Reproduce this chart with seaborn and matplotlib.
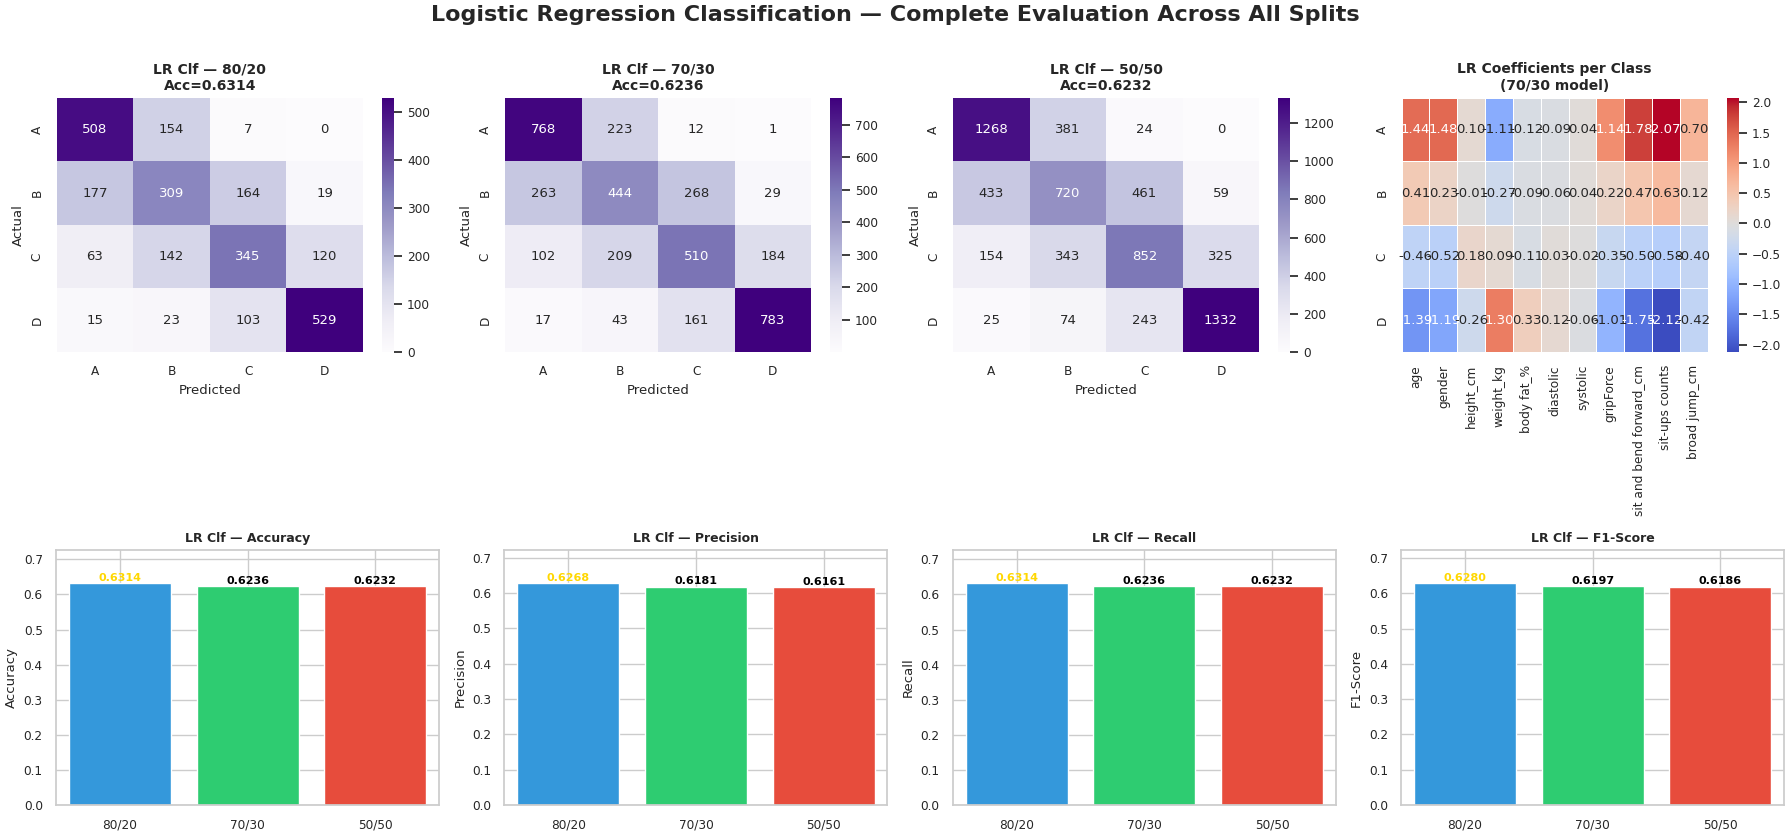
import numpy as np
import pandas as pd
import matplotlib
matplotlib.use('Agg')
import matplotlib.pyplot as plt
import seaborn as sns

# Sınıflar ve bölmeler
classes = ['A', 'B', 'C', 'D']
splits = ['80/20', '70/30', '50/50']

# Karışıklık matrisleri
cm_80_20 = [[508, 154, 7, 0],
            [177, 309, 164, 19],
            [63, 142, 345, 120],
            [15, 23, 103, 529]]
cm_70_30 = [[768, 223, 12, 1],
            [263, 444, 268, 29],
            [102, 209, 510, 184],
            [17, 43, 161, 783]]
cm_50_50 = [[1268, 381, 24, 0],
            [433, 720, 461, 59],
            [154, 343, 852, 325],
            [25, 74, 243, 1332]]
acc_titles = [0.6314, 0.6236, 0.6232]

# Katsayılar (70/30 modeli)
features = ['age', 'gender', 'height_cm', 'weight_kg', 'body fat_%', 'diastolic',
            'systolic', 'gripForce', 'sit and bend forward_cm', 'sit-ups counts',
            'broad jump_cm']
coef_A = [1.44, 1.48, 0.10, -1.11, -0.12, -0.09, 0.04, 1.14, 1.78, 2.07, 0.70]
coef_B = [0.41, 0.23, -0.01, -0.27, -0.09, -0.06, 0.04, 0.22, 0.47, 0.63, 0.12]
coef_C = [-0.46, -0.52, 0.18, 0.09, -0.11, 0.03, -0.02, -0.35, -0.50, -0.58, -0.40]
coef_D = [-1.39, -1.19, -0.26, 1.30, 0.33, 0.12, -0.06, -1.01, -1.75, -2.12, -0.42]

# Metrikler
accuracy = [0.6314, 0.6236, 0.6232]
precision = [0.6268, 0.6181, 0.6161]
recall = [0.6314, 0.6236, 0.6232]
f1_score = [0.6280, 0.6197, 0.6186]

bar_colors = ['#3498db', '#2ecc71', '#e74c3c']

# Eksen yerleşimi (figür oranları)
TOP_Y, TOP_H = 0.5786, 0.304
BOT_Y, BOT_H = 0.036, 0.305
HM_W, CB_W = 0.1709, 0.0068
HM_LEFT = [0.0317, 0.2820, 0.5322, 0.7826]
CB_LEFT = [0.2131, 0.4633, 0.7136, 0.9641]
BAR_LEFT = [0.0313, 0.2816, 0.5320, 0.7823]
BAR_W = 0.2139

TICK = 8.7


def plot_confusion(ax, cax, cm, split, acc):
    """Karışıklık matrisini çiz"""
    sns.heatmap(np.array(cm), annot=True, fmt='d', cmap='Purples',
                xticklabels=classes, yticklabels=classes, ax=ax, cbar_ax=cax,
                annot_kws={'size': 9.5})
    ax.set_title(f'LR Clf — {split}\nAcc={acc:.4f}', fontsize=10, fontweight='bold')
    ax.set_xlabel('Predicted', fontsize=9.5)
    ax.set_ylabel('Actual', fontsize=9.5)
    ax.tick_params(labelsize=TICK)
    cax.tick_params(labelsize=TICK)


def plot_metric(ax, values, name):
    """Metrik çubuk grafiği"""
    df = pd.DataFrame({'split': splits, 'value': values})
    sns.barplot(data=df, x='split', y='value', hue='split', palette=bar_colors,
                legend=False, ax=ax, width=0.8, saturation=1)
    best = int(np.argmax(values))
    for i, v in enumerate(values):
        ax.text(i, v + 0.002, f'{v:.4f}', ha='center', va='bottom', fontsize=8,
                fontweight='bold', color='gold' if i == best else 'black')
    ax.set_ylim(0, max(values) * 1.15)
    ax.set_yticks(np.arange(0, 0.71, 0.1))
    ax.set_title(f'LR Clf — {name}', fontsize=9, fontweight='bold')
    ax.set_xlabel('')
    ax.set_ylabel(name, fontsize=9.5)
    ax.tick_params(labelsize=TICK)
    ax.xaxis.grid(True)
    ax.yaxis.grid(True)


def main():
    sns.set_theme(style='whitegrid')
    plt.rcParams['font.family'] = ['DejaVu Sans']

    fig = plt.figure(figsize=(17.91, 8.35), dpi=100)

    for i, (cm, split, acc) in enumerate(zip([cm_80_20, cm_70_30, cm_50_50],
                                             splits, acc_titles)):
        ax = fig.add_axes([HM_LEFT[i], TOP_Y, HM_W, TOP_H])
        cax = fig.add_axes([CB_LEFT[i], TOP_Y, CB_W, TOP_H])
        plot_confusion(ax, cax, cm, split, acc)

    # Katsayı ısı haritası
    coef = pd.DataFrame([coef_A, coef_B, coef_C, coef_D], index=classes, columns=features)
    ax = fig.add_axes([HM_LEFT[3], TOP_Y, HM_W, TOP_H])
    cax = fig.add_axes([CB_LEFT[3], TOP_Y, CB_W, TOP_H])
    sns.heatmap(coef, annot=True, fmt='.2f', cmap='coolwarm', linewidths=0.5,
                linecolor='white', ax=ax, cbar_ax=cax, annot_kws={'size': 9.5})
    ax.set_title('LR Coefficients per Class\n(70/30 model)', fontsize=10,
                 fontweight='bold')
    ax.tick_params(labelsize=TICK)
    cax.tick_params(labelsize=TICK)

    for left, vals, name in zip(BAR_LEFT, [accuracy, precision, recall, f1_score],
                                ['Accuracy', 'Precision', 'Recall', 'F1-Score']):
        ax = fig.add_axes([left, BOT_Y, BAR_W, BOT_H])
        plot_metric(ax, vals, name)

    fig.suptitle('Logistic Regression Classification — Complete Evaluation Across All Splits',
                 fontsize=16, fontweight='bold', y=0.982, va='center')
    plt.savefig('out.png', dpi=100)
    plt.close()


if __name__ == "__main__":
    main()
